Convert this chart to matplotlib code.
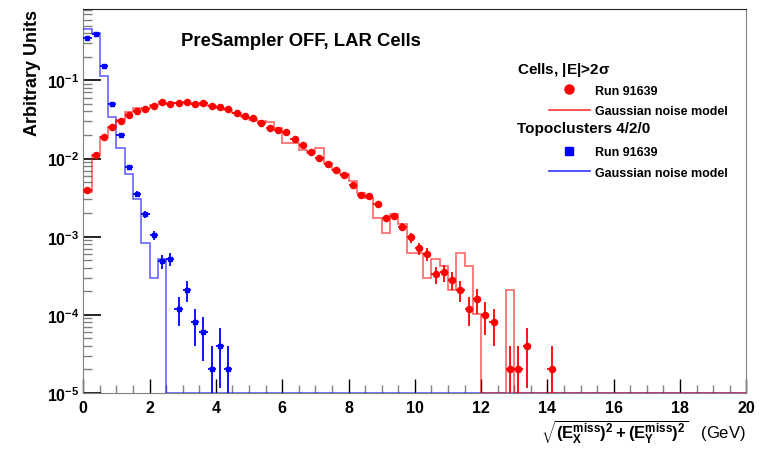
import matplotlib
matplotlib.use('Agg')
import matplotlib.pyplot as plt
from matplotlib.lines import Line2D
from matplotlib.ticker import MultipleLocator, LogLocator, NullFormatter
import numpy as np

plt.rcParams['font.family'] = ['Liberation Sans', 'DejaVu Sans']
plt.rcParams['font.weight'] = 'bold'
plt.rcParams['axes.unicode_minus'] = False
plt.rcParams['mathtext.fontset'] = 'custom'
plt.rcParams['mathtext.rm'] = 'Liberation Sans:bold'
plt.rcParams['mathtext.it'] = 'Liberation Sans:bold'
plt.rcParams['mathtext.bf'] = 'Liberation Sans:bold'

# 80 bins of 0.25 GeV from 0 to 20
bin_edges = np.linspace(0, 20, 81)

# Cells |E|>2sigma, run 91639 (0 = empty bin)
cells_data = [0.0039, 0.011, 0.019, 0.0256, 0.0305, 0.0363, 0.0404, 0.0425, 0.0473, 0.0525,
              0.0496, 0.051, 0.0525, 0.050, 0.051, 0.047, 0.045, 0.0428, 0.0378, 0.0353,
              0.0326, 0.0288, 0.0243, 0.0232, 0.0216, 0.0178, 0.0147, 0.0120, 0.0103, 0.0085,
              0.0072, 0.0061, 0.00463, 0.00346, 0.0033, 0.00258, 0.00171, 0.00182, 0.00133, 0.00098,
              0.00071, 0.0006, 0.00033, 0.00035, 0.00028, 0.00021, 0.00012, 0.00016, 0.0001, 0.00008,
              0, 2e-5, 2e-5, 4e-5, 0, 0, 2e-5]
# Cells gaussian noise model
cells_model = [0.0037, 0.0111, 0.0191, 0.0256, 0.031, 0.0389, 0.0447, 0.0447, 0.048, 0.050,
               0.051, 0.052, 0.051, 0.050, 0.049, 0.047, 0.044, 0.042, 0.038, 0.034,
               0.031, 0.030, 0.029, 0.0248, 0.0157, 0.0157, 0.0129, 0.0118, 0.0136, 0.0087,
               0.0072, 0.0063, 0.0052, 0.0036, 0.0031, 0.00175, 0.00113, 0.00193, 0.00144, 0.00062,
               0.00062, 0.0003, 0.00052, 0.00042, 0.00021, 0.00061, 0.00042, 0.000103, 0, 0,
               0, 0.00021]
# Topoclusters 4/2/0, run 91639
topo_data = [0.35, 0.395, 0.154, 0.050, 0.0198, 0.0079, 0.00353, 0.00193, 0.00105, 0.00049,
             0.00052, 0.00012, 0.00021, 8e-5, 6e-5, 2e-5, 4e-5, 2e-5]
# Topoclusters gaussian noise model
topo_model = [0.45, 0.40, 0.112, 0.0336, 0.0136, 0.0064, 0.00305, 0.00082, 0.0003, 0.00052]

event_weight = 2e-5
ymin, ymax = 1e-5, 0.83


def full(vals):
    v = np.zeros(len(bin_edges) - 1)
    v[:len(vals)] = vals
    return v


def draw_points(ax, vals, color, marker, ms):
    v = full(vals)
    centers = 0.5 * (bin_edges[1:] + bin_edges[:-1])
    m = v > 0
    y = v[m]
    err = np.sqrt(y * event_weight)
    lo = np.minimum(err, y * 0.999999)
    ax.errorbar(centers[m], y, xerr=0.125, yerr=[lo, err], fmt=marker, color=color,
                ms=ms, elinewidth=1.3, capsize=0, zorder=4)


def draw_model(ax, vals, color):
    v = full(vals)
    v = np.where(v > 0, v, ymin)
    ax.stairs(v, bin_edges, color=color, lw=1.2, alpha=0.6, baseline=None, zorder=3)


fig = plt.figure(figsize=(7.63, 4.56), dpi=100)
ax = fig.add_axes([83.3 / 763, 1 - 394 / 456, 663 / 763, 384.5 / 456])

draw_model(ax, topo_model, '#0000ff')
draw_model(ax, cells_model, '#ff0000')
draw_points(ax, topo_data, '#0000ff', 's', 3.4)
draw_points(ax, cells_data, '#ff0000', 'o', 4.4)

ax.set_yscale('log')
ax.set_xlim(0, 20)
ax.set_ylim(ymin, ymax)
ax.xaxis.set_major_locator(MultipleLocator(2))
ax.xaxis.set_minor_locator(MultipleLocator(0.5))
ax.yaxis.set_minor_locator(LogLocator(base=10, subs=np.arange(2, 10)))
ax.yaxis.set_minor_formatter(NullFormatter())

ax.tick_params(which='both', direction='in', top=False, right=False, labelsize=11.5)
ax.tick_params(axis='x', which='major', length=10, width=1, color='black', pad=5)
ax.tick_params(axis='x', which='minor', length=5.5, width=1, color='#808080')
ax.tick_params(axis='y', which='major', length=13, width=1.2, color='black', pad=3)
ax.tick_params(axis='y', which='minor', length=6.5, width=1, color='#808080')
for lab in ax.get_xticklabels() + ax.get_yticklabels():
    lab.set_fontweight('bold')

for side in ['left', 'bottom', 'right']:
    ax.spines[side].set_color('#808080')
ax.spines['top'].set_color('#222222')

ax.set_ylabel('Arbitrary Units', fontsize=13, fontweight='bold', loc='top', labelpad=4)
ax.set_xlabel(r'$\sqrt{(\mathrm{E}_{\mathrm{X}}^{\mathrm{miss}})^{2} + (\mathrm{E}_{\mathrm{Y}}^{\mathrm{miss}})^{2}}$   (GeV)',
              fontsize=12, loc='right', labelpad=2)

ax.text(0.328, 0.917, 'PreSampler OFF, LAR Cells', transform=ax.transAxes,
        ha='center', va='center', fontsize=13.3, fontweight='bold')

ax.text(0.654, 0.843, r'Cells, |E|>2$\sigma$', transform=ax.transAxes,
        ha='left', va='center', fontsize=11, fontweight='bold')
ax.text(0.654, 0.689, 'Topoclusters 4/2/0', transform=ax.transAxes,
        ha='left', va='center', fontsize=11, fontweight='bold')

handles = [Line2D([], [], marker='o', color='#ff0000', ls='none', ms=6.5),
           Line2D([], [], color='#ff0000', lw=1.2, alpha=0.8),
           Line2D([], [], ls='none'),
           Line2D([], [], marker='s', color='#0000ff', ls='none', ms=5.5),
           Line2D([], [], color='#0000ff', lw=1.2, alpha=0.8)]
labels = ['Run 91639', 'Gaussian noise model', '', 'Run 91639', 'Gaussian noise model']
ax.legend(handles, labels, loc='upper left', bbox_to_anchor=(0.702, 0.802), frameon=False,
          borderpad=0, borderaxespad=0, handlelength=3.3, handletextpad=0.4,
          labelspacing=0.68, prop={'size': 9, 'weight': 'bold'})

fig.savefig('out.png', dpi=100)
